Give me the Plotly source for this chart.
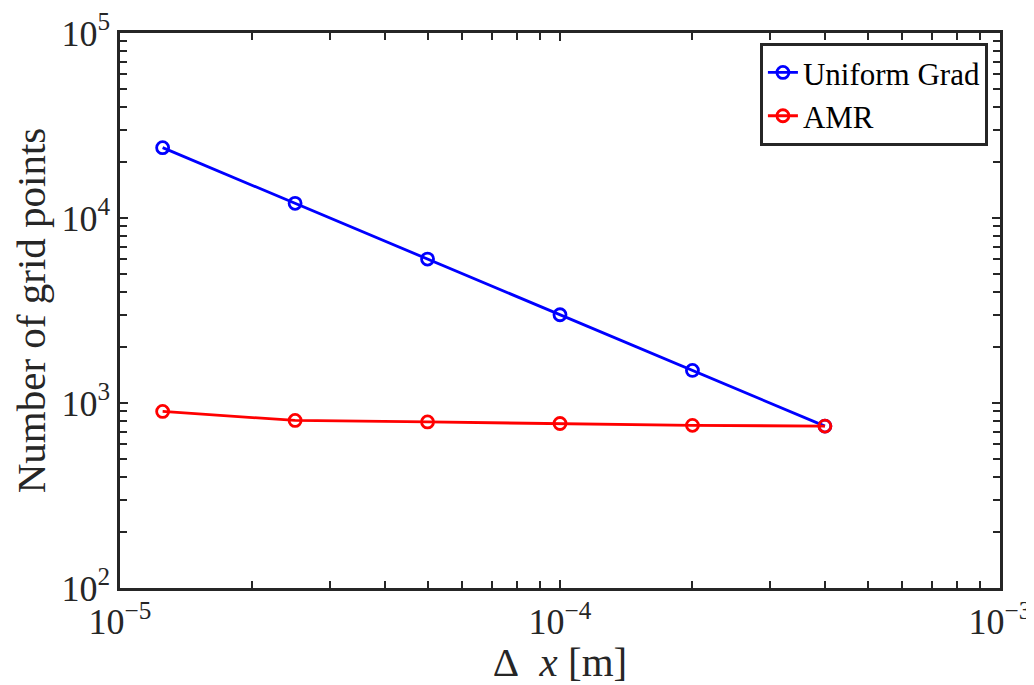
import plotly.graph_objects as go

dx = [1.25e-5, 2.5e-5, 5e-5, 1e-4, 2e-4, 4e-4]
uniform_grad = [24000, 12000, 6000, 3000, 1500, 750]
amr = [900, 805, 790, 775, 757, 750]

x_tickvals = [1e-5, 1e-4, 1e-3]
x_ticktext = ["10<sup>−5</sup>", "10<sup>−4</sup>", "10<sup>−3</sup>"]
y_tickvals = [1e2, 1e3, 1e4, 1e5]
y_ticktext = ["10<sup>2</sup>", "10<sup>3</sup>", "10<sup>4</sup>", "10<sup>5</sup>"]

FONT = "Liberation Serif"
AX = "#262626"

fig = go.Figure()
fig.add_trace(go.Scatter(x=dx, y=uniform_grad, name="Uniform Grad", mode="lines+markers",
                         line=dict(color="#0000ff", width=2.8),
                         marker=dict(symbol="circle-open", size=12, line=dict(width=2.8, color="#0000ff"))))
fig.add_trace(go.Scatter(x=dx, y=amr, name="AMR", mode="lines+markers",
                         line=dict(color="#ff0000", width=2.8),
                         marker=dict(symbol="circle-open", size=12, line=dict(width=2.8, color="#ff0000"))))

axis_common = dict(type="log", showline=True, linecolor=AX, linewidth=2.5, mirror="ticks",
                   ticks="inside", ticklen=8, tickwidth=2, tickcolor=AX, showgrid=False, zeroline=False,
                   automargin=False,
                   tickfont=dict(family=FONT, size=36, color="#262626"),
                   minor=dict(ticks="inside", ticklen=7, tickwidth=2, tickcolor=AX, dtick="D1", showgrid=False))

fig.update_xaxes(range=[-5, -3], tickvals=x_tickvals, ticktext=x_ticktext,
                 title=dict(text="Δ\u00a0\u00a0<i>x</i>\u00a0[m]", font=dict(family=FONT, size=41, color="#262626"), standoff=6),
                 **axis_common)
fig.update_yaxes(range=[2, 5], tickvals=y_tickvals, ticktext=y_ticktext,
                 title=dict(text="Number of grid points", font=dict(family=FONT, size=41, color="#262626"), standoff=8),
                 **axis_common)

# page body has an 8px margin, so the figure is made 8px smaller
fig.update_layout(
    width=1026, height=677,
    margin=dict(l=112, r=34, t=25, b=97),
    plot_bgcolor="white", paper_bgcolor="white",
    legend=dict(x=0.9865, y=0.982, xanchor="right", yanchor="top",
                bordercolor=AX, borderwidth=2.8, bgcolor="white",
                font=dict(family=FONT, size=31, color="black"),
                tracegroupgap=0, itemwidth=30),
)

fig.write_html("out.html")
